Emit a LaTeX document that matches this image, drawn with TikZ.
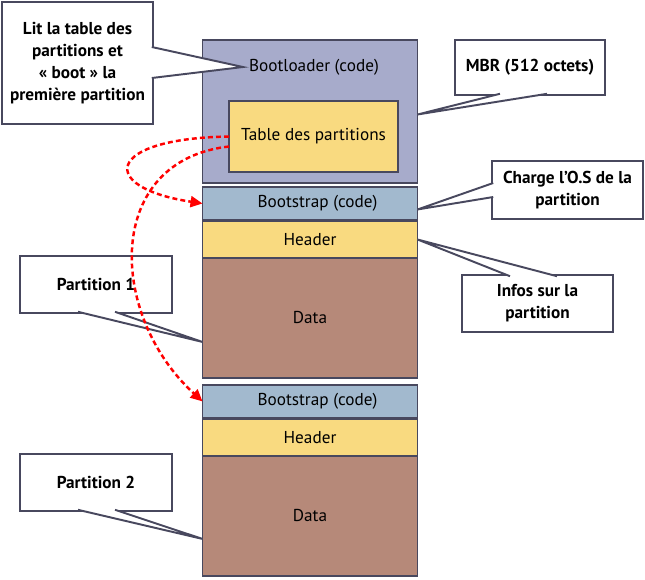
\documentclass[tikz,border=0pt]{standalone}
\usepackage{fontspec}
\setmainfont{PT Sans}
\usepackage{xcolor}
\usetikzlibrary{arrows.meta,positioning,calc}

\definecolor{bordure}{RGB}{72,72,94}
\definecolor{mbrfond}{RGB}{167,171,203}
\definecolor{jaune}{RGB}{249,218,128}
\definecolor{bleu}{RGB}{162,185,206}
\definecolor{brun}{RGB}{182,137,121}

\begin{document}
\begin{tikzpicture}[
    x=0.02cm, y=-0.02cm,
    bloc/.style={draw=bordure, line width=1.1pt, minimum width=4.3cm,
        inner sep=0pt, outer sep=0pt, font=\fontsize{9.8}{11}\selectfont},
    texte/.style={font=\fontsize{9.8}{11}\selectfont},
    bulle/.style={draw=bordure, fill=white, line width=1.1pt, align=center,
        inner sep=0pt, outer sep=0pt, minimum width=3.02cm,
        font=\bfseries\fontsize{9.8}{12.5}\selectfont},
    pointe/.style={draw=bordure, fill=white, line width=1.1pt},
    lien/.style={-{Triangle[length=2.4mm, width=2.2mm]}, red, line width=1.4pt,
        dash pattern=on 2.8pt off 1.8pt}
]
    \useasboundingbox (0,0) rectangle (645,579);

    % MBR et partitions
    \node[bloc, fill=mbrfond, minimum height=2.86cm] (mbr) at (310,111.5) {};
    \node[texte] (bltxt) at (314,67) {Bootloader (code)};
    \node[bloc, fill=jaune, minimum width=3.38cm, minimum height=1.42cm] (table) at (313.5,136.5) {Table des partitions};
    \node[bloc, fill=bleu, minimum height=0.66cm, below=0.08cm of mbr] (boot1) {\hspace*{0.3cm}Bootstrap (code)};
    \node[bloc, fill=jaune, minimum height=0.74cm, below=0.02cm of boot1] (header1) {Header};
    \node[bloc, fill=brun, minimum height=2.4cm, below=0pt of header1] (data1) {Data};
    \node[bloc, fill=bleu, minimum height=0.66cm, below=0.14cm of data1] (boot2) {\hspace*{0.3cm}Bootstrap (code)};
    \node[bloc, fill=jaune, minimum height=0.74cm, below=0.02cm of boot2] (header2) {Header};
    \node[bloc, fill=brun, minimum height=2.4cm, below=0pt of header2] (data2) {Data};

    % bulles
    \node[bulle, minimum height=2.44cm] (lit) at (77.5,63) {Lit la table des\\partitions et\\« boot » la\\première partition};
    \node[bulle, minimum width=3cm, minimum height=1.1cm] (mbrtxt) at (530,67.5) {MBR (512 octets)};
    \node[bulle, minimum height=1.16cm] (charge) at (567.5,190) {Charge l’O.S de la\\partition};
    \node[bulle, minimum height=1.14cm] (infos) at (537.5,303.5) {Infos sur la\\partition};
    \node[bulle, minimum width=3.04cm, minimum height=1.14cm] (part1) at (96,284.5) {Partition 1};
    \node[bulle, minimum width=3.04cm, minimum height=1.14cm] (part2) at (96,482.5) {Partition 2};

    \filldraw[pointe] ($(lit.east)+(-1.2,-16)$) -- (bltxt.west) -- ($(lit.east)+(-1.2,15)$);
    \filldraw[pointe] ($(mbrtxt.south)+(-30,-1.2)$) -- ($(mbr.east)+(0,3)$) -- ($(mbrtxt.south)+(17,-1.2)$);
    \filldraw[pointe] ($(charge.west)+(1.2,-7)$) -- ($(boot1.east)+(0,6)$) -- ($(charge.west)+(1.2,7)$);
    \filldraw[pointe] ($(infos.north)+(-27.5,1.2)$) -- (header1.east) -- ($(infos.north)+(19.5,1.2)$);
    \filldraw[pointe] ($(part1.south)+(-18,-1.2)$) -- ($(data1.west)+(0,24)$) -- ($(part1.south)+(19,-1.2)$);
    \filldraw[pointe] ($(part2.south)+(-18,-1.2)$) -- ($(data2.west)+(0,23)$) -- ($(part2.south)+(19,-1.2)$);

    % chargement des partitions
    \draw[lien] (table.west) .. controls +(-125,2) and +(-105,-16) .. (boot1.west);
    \draw[lien] ($(table.west)+(0,10)$) .. controls +(-125,14) and +(-95,-87) .. (boot2.west);
\end{tikzpicture}
\end{document}
